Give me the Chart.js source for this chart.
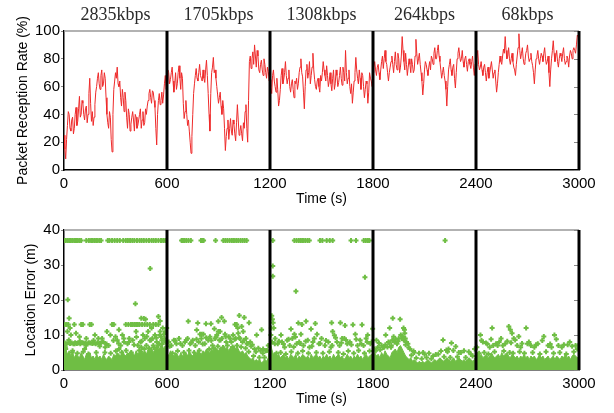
<!DOCTYPE html>
<html>
<head>
<meta charset="utf-8">
<script src="https://cdn.jsdelivr.net/npm/chart.js@4.4.1/dist/chart.umd.min.js"></script>
<style>
  body{ margin:0; background:#fff; }
  #wrap{ position:relative; width:614px; height:413px; background:#fff; }
  canvas{ position:absolute; left:0; }
</style>
</head>
<body>
<div id="wrap">
  <canvas id="rateChart" width="614" height="215" style="top:0"></canvas>
  <canvas id="errChart" width="614" height="198" style="top:215px"></canvas>
</div>
<script>
// segment boundaries (s) and bitrate label per segment
const segEdges = [600, 1200, 1800, 2400, 3000];
const segLabels = ['2835kbps', '1705kbps', '1308kbps', '264kbps', '68kbps'];
const timeTicks = [0, 600, 1200, 1800, 2400, 3000];

// packet reception rate (%): samples at 0,10,20.. s
const rateSeg1 = [25,8,32,40,28,38,30,45,35,53,40,48,36,46,40,66,35,32,47,60,70,58,72,62,66,40,30,38,13,58,70,74,60,52,58,42,50,30,40,33,42,28,38,32,40,30,42,34,40,50,58,48,56,45,18,50,47,56,54,68];
const rateSeg2 = [62,70,65,74,56,70,62,75,58,66,37,50,32,28,12,40,62,73,64,76,66,72,63,79,55,28,70,81,72,60,48,56,40,44,14,30,22,37,25,33,21,47,25,32,21,30,47,20,78,73,85,90,74,82,70,79,68,76,66,71];
const rateSeg3 = [65,55,72,60,66,46,58,73,65,78,62,72,56,65,52,62,58,70,80,67,44,72,66,78,68,84,65,58,66,56,64,78,68,75,60,70,57,72,62,68,63,74,61,70,86,62,72,55,48,64,81,66,72,58,68,52,64,48,70,64];
const rateSeg4 = [70,78,68,76,65,78,73,86,76,64,74,82,70,85,72,80,74,96,78,84,68,80,70,76,72,94,76,84,70,54,72,76,68,78,82,76,88,80,90,78,66,74,64,46,72,80,68,76,59,80,88,78,86,74,82,71,80,73,82,68];
const rateSeg5 = [75,86,72,78,68,76,64,74,70,78,66,72,56,70,82,76,87,96,80,88,76,84,74,68,82,98,80,88,76,84,90,78,84,75,62,80,86,76,84,78,88,76,82,60,80,93,78,86,74,84,78,88,76,82,74,86,80,88,84,97,95];
// ... and the samples in between, at 5,15,25.. s
const rateMid1 = [15,22,42,30,36,26,40,32,44,38,50,40,44,34,55,48,42,38,56,66,62,68,60,70,52,34,42,22,40,64,66,62,64,46,52,56,38,44,28,38,36,40,30,36,44,36,32,44,46,55,52,57,50,30,40,55,50,48,62,58];
const rateMid2 = [72,62,70,64,62,58,70,66,70,48,42,40,36,20,24,55,68,66,70,68,64,66,72,68,40,55,74,70,66,54,52,46,50,30,24,36,30,28,36,26,34,36,28,26,34,42,30,50,82,80,76,82,86,72,76,72,80,70,74,64];
const rateMid3 = [60,68,64,56,58,50,68,62,70,68,66,60,62,58,64,66,62,74,70,56,60,76,70,62,74,72,60,64,60,68,70,72,64,68,64,62,66,58,72,60,68,66,74,64,70,66,60,62,56,70,72,62,66,70,60,58,62,56,66,60];
const rateMid4 = [74,72,74,70,72,82,80,78,70,70,78,76,78,76,84,70,82,86,72,76,74,76,80,70,82,84,80,76,64,62,78,72,74,72,80,84,80,86,82,72,70,68,58,60,76,72,74,66,70,84,82,80,78,80,76,78,76,78,74,76];
const rateMid5 = [80,76,74,72,74,70,70,66,74,72,70,64,62,76,78,82,84,86,82,80,80,78,72,76,88,86,84,80,78,86,82,80,78,70,72,82,80,80,82,84,80,78,70,72,86,84,82,78,80,82,84,80,78,80,82,84,86,86,90,96];

// location error: upper edge of the dense cloud near 0 m, every 10 s
const denseEdge1 = [5,6,4.5,5.5,4,5,3.5,4.5,4,3.5,5,4,3,4.5,4,5,3.5,4,3,4.5,3.5,4,3,4.5,3.5,3,4,3.5,3,4.5,4,5,4.5,4,5.5,4.5,4,5,4.5,5.5,5,4,5.5,4.5,5,6,5,5.5,4.5,6,5.5,6.5,5,6,7,6,6.5,7.5,6,7];
const denseEdge2 = [5,4,5.5,4.5,4,5,4.5,3.5,5,4,4.5,5,4,5.5,4.5,4,5,4.5,5.5,5,4.5,5.5,5,6,5.5,5,6,5.5,6.5,6,5.5,6.5,6,7,6,6.5,5.5,6.5,6,7,6,6.5,5.5,5,5.5,4.5,5,4,3.5,3,3.5,2.5,3,2.5,3,2,2.5,3,2.5,3.5];
const denseEdge3 = [9,6,4.5,5,4,4.5,3.5,4,4.5,3.5,4,3,4.5,4,3.5,4.5,3,4,3.5,4.5,4,3.5,4,3,4.5,3.5,4,4.5,3.5,4,3,4,3.5,4.5,3.5,4,3,4.5,3.5,4,4.5,3.5,4,3,3.5,4.5,3.5,4,3,4,3.5,4.5,3.5,4,3,4,4.5,3.5,4,4.5];
const denseEdge4 = [4,5,4,4.5,3.5,5,4,5.5,4.5,4,3.5,5,5.5,6,5,6.5,7,6,5,4,3.5,3,3.5,2.5,3,2.5,2,2.5,2,2.5,2,2.5,3,2.5,2,2.5,3,2.5,3,3.5,3,2.5,3,3.5,3,2.5,3,3.5,2.5,3,3.5,3,2.5,3,2.5,3,3.5,3,2.5,3];
const denseEdge5 = [4,5,4,4.5,3.5,4,4.5,3.5,4,5,4,3.5,4,4.5,3.5,5,4,4.5,5,4,3.5,4.5,4,3.5,4,3,4,3.5,4.5,3.5,4,3,4,3.5,4,3,3.5,4.5,3.5,4,3,3.5,4,3,3.5,4,3,4,3.5,3,4,3.5,4.5,3.5,4,3,4,4.5,4,3.5,4];

// scattered fixes above the dense cloud [time s, error m]
const errSeg1 = [[5,13],[15,13],[25,13],[35,12],[60,13],[100,13],[110,13],[150,13],[160,13],[280,13],[290,13],[360,13],[375,13],[390,13],[400,13],[410,13],[420,13],[430,13],[440,13],[455,13],[470,13],[485,13],[500,13],[520,13],[535,13],[550,13],
  [450,14.8],[465,14.7],[475,14.5],[550,15.3],[560,14],[30,14.8],
  [20,11],[40,10],[70,10.5],[90,9.5],[130,9],[180,10],[200,9],[250,11],[270,10],[300,9.5],[320,11.5],[340,10],[380,9],[420,11],[460,10],[490,11],[510,12],[530,10],[560,11],[575,12],[590,11],[585,9],[565,9.5],
  [5,7.7],[15,7.5],[25,7.8],[35,7.6],[45,7.7],[55,7.5],[65,7.8],[75,7.6],[85,7.7],[95,7.5],[105,7.8],[115,7.7],[125,7.6],[135,7.5],[145,7.8],[155,7.7],[165,7.6],[175,7.7],[185,7.5],[195,7.8],[205,7.6],[215,7.7],
  [230,8],[260,7],[310,8.5],[330,7],[350,8],[370,7.5],[400,8.5],[430,7],[445,8],[470,9],[480,7],[500,8.5],[515,9],[540,8],[555,7.5],[570,8.5],[595,8],[10,6],[50,5.5],[120,6],[240,6.5],[320,6],[450,6.5],[520,7],
  [8,6.5],[28,8.6],[48,5],[62,7.5],[78,4.8],[92,8.2],[112,5.2],[128,7],[142,4.6],[172,8.4],[188,5],[208,6.8],[222,9],[238,5],[248,7.4],[272,4.8],[288,8.4],[302,5.4],[318,7.6],[336,5],[348,9],[362,5.6],[378,8],[392,5],[408,7.2],[422,9.4],[438,5.6],[452,8.2],[468,6],[482,9.6],[496,6.2],[508,8.6],[524,6.4],[538,9.2],[548,7],[558,10],[572,7.4],[582,10.2],[592,8],[598,12],
  [22,20.1],[416,18.9],[502,29]];
const errSeg2 = [[724,13.9],[779,13.4],[827,13.2],[856,13.2],[899,13.9],[918,15],[934,13.9],[1021,15.6],[1050,15],[1078,13.5],[773,11.4],[792,10.2],[802,10.2],[812,10.2],[876,11.8],[899,11],[909,11],[938,10.2],[996,13],[1006,13],[1012,12],[1035,12.4],[1044,11],[1151,11.5],[1122,10],[1097,7.2],[1132,6.2],[1145,5.5],[1160,6],
  [610,8],[625,7],[640,8.5],[655,7.5],[670,9],[690,7],[705,8],[720,9],[735,7.5],[750,8.5],[765,7],[785,8],[800,9],[820,7.5],[840,8.5],[850,9.5],[865,7],[880,9],[890,10],[905,8.5],[920,9],[945,8],[960,9.5],[975,8],[985,10],[1000,9],[1015,10.5],[1025,9],[1040,8],[1060,9],[1070,7.5],[1085,8],[1110,6],[1175,5.5],[1190,7],
  [615,6.8],[632,4.8],[648,8.4],[662,5.4],[678,7.6],[698,5],[712,8.6],[728,5.6],[742,7.8],[758,5],[772,8.8],[788,5.6],[808,7.4],[828,9.2],[846,6],[858,8.4],[872,6.2],[886,9.4],[896,6.8],[912,8.6],[926,6.4],[942,9.6],[952,7],[968,9],[982,6.6],[994,8.8],[1008,7],[1020,9.2],[1032,6.6],[1048,8.4],[1058,6.2],[1066,7.6],[1076,5.2],[1090,6.8],[1104,4],[1118,5.2],[1138,3.6],[1158,4.8],[1168,3.6],[1182,5.6]];
const errSeg3 = [[1210,15.5],[1214,14.5],[1218,13.5],[1222,12],[1216,29.7],[1216,26.8],[1351,22.5],[1753,26.5],
  [1365,13.4],[1386,13],[1410,13.9],[1464,13.3],[1559,13.5],[1610,13.5],[1637,12.7],[1683,12.9],[1736,12.9],
  [1264,10],[1322,11.7],[1342,10.2],[1380,10.2],[1439,11.7],[1474,10.2],[1565,11],[1575,9.9],[1633,9],[1697,10.2],[1769,10],[1798,11.8],
  [1230,9],[1245,7.5],[1270,8],[1285,6.5],[1300,8.5],[1315,7],[1330,9],[1355,7.5],[1370,8],[1395,7],[1420,8.5],[1430,6.5],[1450,8],[1485,7.5],[1500,9],[1520,7],[1540,8],[1555,6.5],[1590,8],[1605,7],[1620,9],[1650,7.5],[1665,8],[1710,7],[1725,8.5],[1745,7],[1760,9],[1785,7.5],
  [1205,10],[1208,12],[1212,8],[1228,7.5],[1238,4.8],[1252,8.2],[1262,5],[1278,7.4],[1292,4.6],[1308,8.8],[1324,5.2],[1338,6.6],[1348,9.4],[1362,4.8],[1376,7.6],[1390,5.4],[1408,8.2],[1424,4.8],[1444,6.8],[1458,9],[1470,5],[1492,7.6],[1508,4.8],[1526,8.4],[1546,5.2],[1562,7],[1582,9.2],[1598,5],[1616,7.8],[1628,4.6],[1642,8.6],[1656,5.4],[1674,7.2],[1688,4.8],[1702,8.8],[1716,5.6],[1732,7.4],[1750,4.8],[1766,8],[1780,5.4],[1792,8]];
const errSeg4 = [[1915,14.8],[1958,14.5],[1897,12],[1874,10],[1983,11.5],[1978,12],[1974,9.5],[1980,8.5],[1988,9],[1995,8],[2003,7.5],[1985,10.5],[1835,7.7],[1820,8.5],[1850,7],[1865,6.5],[1890,8],[1907,7],[1905,6.5],[1925,8],[1940,7.5],[1950,9],
  [2208,8.6],[2257,7.7],[2282,6.7],[2228,5.7],[2015,6],[2040,5],[2100,4.5],[2150,4],[2180,4.5],[2240,6],[2300,5],[2330,5.5],[2370,4.5],
  [1808,6],[1816,5.5],[1828,6.5],[1842,5.8],[1858,6.4],[1872,7.2],[1884,6.6],[1894,7.8],[1912,8.5],[1920,9.5],[1932,8.8],[1946,8.2],[1962,10],[1968,9],[1990,7.2],
  [2008,6.4],[2024,4.2],[2036,5.4],[2052,3.4],[2068,4.8],[2084,3.2],[2092,5],[2112,3.6],[2126,4.8],[2140,3.2],[2166,4.4],[2196,5.4],[2214,3.8],[2234,5.2],[2250,3.6],[2268,5.6],[2292,3.8],[2312,5],[2340,3.6],[2358,5.2],[2380,4],[2392,6]];
const errSeg5 = [[2426,10],[2494,12],[2591,12.4],[2600,11.5],[2692,12],[2649,9.6],[2795,9.6],[2857,10],[2458,7.7],[2517,7.5],[2535,8],[2556,7],[2700,7.5],[2934,7.2],[2960,6.8],[2620,9],[2610,10.5],[2440,8],[2480,6.5],[2500,7],[2570,7.5],[2640,7],[2660,6.5],[2720,7],[2740,6.5],[2760,7.5],[2820,7],[2840,6.5],[2880,7],[2900,6.5],[2980,7],[2990,6],
  [2405,6.5],[2418,4.8],[2432,8.4],[2448,5],[2466,7.4],[2472,4.6],[2488,8.8],[2508,5.2],[2526,7],[2546,9],[2562,5.4],[2582,8.2],[2596,5],[2604,7.8],[2616,4.8],[2628,8.6],[2654,5.2],[2668,7.6],[2682,4.8],[2708,8],[2730,5],[2750,7.2],[2772,4.6],[2786,8.4],[2808,5.2],[2832,7.4],[2852,4.8],[2868,8.8],[2888,5],[2912,7.2],[2926,4.6],[2946,8],[2970,5.2],[2996,7]];
// fixes clipped at 37 m (failed localisation)
const clippedTimes = [0,10,20,30,40,50,60,70,80,90,100,130,145,158,168,180,192,205,216,255,265,280,295,310,325,345,360,372,385,398,410,425,440,452,465,480,495,510,522,535,550,565,578,590,
  685,692,700,712,725,739,798,806,813,883,928,940,952,965,978,990,1003,1015,1028,1040,1052,1064,
  1216,1342,1355,1368,1380,1392,1405,1418,1429,1491,1505,1530,1548,1565,1672,1701,1746,1758,1770,1779,2220];
const clippedError = 37;

(function(){
  const RED = '#ee2a2a';
  const GREEN = '#6fbe44';
  const sans = '"Liberation Sans", Arial, sans-serif';
  const tickFont = { family: sans, size: 15 };
  const titleFont = { family: sans, size: 14 };

  // thick separators, grey top frame, inner right ticks, bitrate labels
  const segmentPlugin = {
    id: 'segments',
    afterDatasetsDraw(chart, args, opts){
      const { ctx, chartArea: a, scales: { x, y } } = chart;
      ctx.save();
      ctx.strokeStyle = '#999'; ctx.lineWidth = 1.5;
      ctx.beginPath(); ctx.moveTo(a.left, a.top); ctx.lineTo(a.right, a.top); ctx.stroke();
      ctx.strokeStyle = '#888'; ctx.lineWidth = 1;
      y.ticks.forEach(t => {
        const py = Math.round(y.getPixelForValue(t.value)) + 0.5;
        ctx.beginPath(); ctx.moveTo(a.right - 5, py); ctx.lineTo(a.right, py); ctx.stroke();
      });
      ctx.strokeStyle = '#000'; ctx.lineWidth = 3;
      segEdges.forEach(t => {
        const px = x.getPixelForValue(t);
        ctx.beginPath(); ctx.moveTo(px, a.top); ctx.lineTo(px, a.bottom); ctx.stroke();
      });
      if(opts.labels){
        ctx.fillStyle = '#2a2a2a';
        ctx.font = '18px "Liberation Serif", "DejaVu Serif", serif';
        ctx.textAlign = 'center'; ctx.textBaseline = 'middle';
        segLabels.forEach((lab, i) => {
          const mid = (segEdges[i] + (i ? segEdges[i-1] : 0)) / 2;
          ctx.fillText(lab, x.getPixelForValue(mid), 15);
        });
      }
      ctx.restore();
    }
  };

  function xScale(axisH, titleBottom){
    return {
      type: 'linear', min: 0, max: 3000,
      afterBuildTicks(s){ s.ticks = timeTicks.map(v => ({ value: v })); },
      ticks: { font: tickFont, color: '#000', padding: 5, maxRotation: 0, autoSkip: false, callback: v => String(v) },
      grid: { display: false, drawTicks: false },
      border: { color: '#000', width: 1.5 },
      title: { display: true, text: 'Time (s)', font: titleFont, color: '#000', padding: { top: 0, bottom: titleBottom } },
      afterFit(s){ s.height = axisH; }
    };
  }
  function yScale(max, step, text, titleLeft){
    return {
      min: 0, max: max,
      ticks: { stepSize: step, font: tickFont, color: '#000', padding: 1, callback: v => String(v) },
      grid: { drawOnChartArea: false, tickLength: 3, color: '#888' },
      border: { color: '#000', width: 1.5 },
      title: { display: true, text: text, font: titleFont, color: '#000', padding: { top: titleLeft, bottom: 0 } },
      afterFit(s){ s.width = 64; }
    };
  }

  // top: reception rate, main samples interleaved with the in-between ones
  const rateMain = [].concat(rateSeg1, rateSeg2, rateSeg3, rateSeg4, rateSeg5);
  const rateMid = [].concat(rateMid1, rateMid2, rateMid3, rateMid4, rateMid5);
  const ratePts = [];
  rateMain.forEach((v, i) => {
    ratePts.push({ x: i * 10, y: v });
    if(i < rateMid.length) ratePts.push({ x: i * 10 + 5, y: rateMid[i] });
  });
  new Chart(document.getElementById('rateChart').getContext('2d'), {
    type: 'line',
    data: { datasets: [{ data: ratePts, borderColor: RED, borderWidth: 1, pointRadius: 0, tension: 0 }]},
    options: {
      responsive: false, animation: false, events: [],
      layout: { padding: { left: 0, right: 35, top: 31, bottom: 0 } },
      plugins: { legend: { display: false }, tooltip: { enabled: false }, segments: { labels: true } },
      scales: { x: xScale(45, 7), y: yScale(100, 20, 'Packet Reception Rate (%)', 15) }
    },
    plugins: [segmentPlugin]
  });

  // bottom: location error
  const dense = [].concat(denseEdge1, denseEdge2, denseEdge3, denseEdge4, denseEdge5);
  const pts = [].concat(errSeg1, errSeg2, errSeg3, errSeg4, errSeg5).map(p => ({ x: p[0], y: p[1] }));
  clippedTimes.forEach(t => pts.push({ x: t, y: clippedError }));
  new Chart(document.getElementById('errChart').getContext('2d'), {
    type: 'scatter',
    data: { datasets: [
      { type: 'line', data: dense.map((v, i) => ({ x: i * 10, y: v })), showLine: true, fill: 'origin',
        backgroundColor: GREEN, borderColor: GREEN, borderWidth: 1, pointRadius: 0, tension: 0 },
      { data: pts, pointStyle: 'cross', pointRadius: 2.5, borderWidth: 2, borderColor: GREEN, backgroundColor: GREEN }
    ]},
    options: {
      responsive: false, animation: false, events: [],
      layout: { padding: { left: 0, right: 35, top: 15, bottom: 0 } },
      plugins: { legend: { display: false }, tooltip: { enabled: false }, segments: { labels: false } },
      scales: { x: xScale(43, 5.5), y: yScale(40, 10, 'Location Error (m)', 22.6) }
    },
    plugins: [segmentPlugin]
  });
})();
</script>
</body>
</html>
